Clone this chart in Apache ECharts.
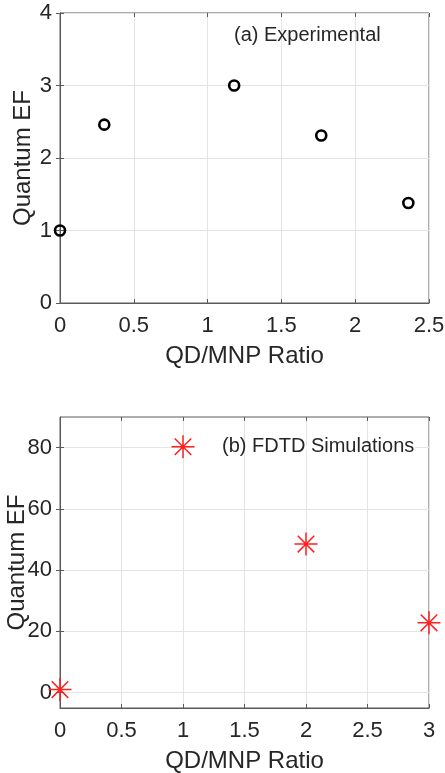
<!DOCTYPE html>
<html>
<head>
<meta charset="utf-8">
<script src="https://cdn.jsdelivr.net/npm/echarts@6/dist/echarts.min.js"></script>
<style>
html,body{margin:0;padding:0;background:#fff;}
#chart{width:445px;height:773px;}
</style>
</head>
<body>
<div id="chart"></div>
<script>
// Data
const expRatio = [0, 0.3, 1.18, 1.77, 2.36];
const expEF = [1.0, 2.46, 3.0, 2.31, 1.38];
const simRatio = [0, 1, 2, 3];
const simEF = [1, 80.3, 48.5, 22.8];
const topYTicks = [0, 1, 2, 3, 4];
const botYTicks = [0, 20, 40, 60, 80];
const xTitle = 'QD/MNP Ratio';
const yTitle = 'Quantum EF';
const labelA = '(a) Experimental';
const labelB = '(b) FDTD Simulations';

const FONT = '"Liberation Sans", Arial, Helvetica, sans-serif';
const AXIS_COLOR = '#5a5a5a';
const TEXT_COLOR = '#262626';
const GRID_COLOR = '#e4e4e4';

const chart = echarts.init(document.getElementById('chart'), null, {renderer: 'canvas'});

function xAxisCfg(gridIndex, max) {
  return {
    type: 'value', gridIndex: gridIndex, min: 0, max: max, interval: 0.5,
    name: xTitle, nameLocation: 'middle', nameGap: 41, nameMoveOverlap: false,
    nameTextStyle: {fontFamily: FONT, fontSize: 24, color: TEXT_COLOR},
    axisLine: {show: true, onZero: false, lineStyle: {color: AXIS_COLOR, width: 1}},
    axisTick: {show: true, inside: true, length: 4, lineStyle: {color: AXIS_COLOR}},
    axisLabel: {fontFamily: FONT, fontSize: 22, color: TEXT_COLOR, margin: 12},
    splitLine: {show: true, lineStyle: {color: GRID_COLOR, width: 1}}
  };
}
function xTopCfg(gridIndex, max) {
  return {
    type: 'value', gridIndex: gridIndex, position: 'top', min: 0, max: max, interval: 0.5,
    axisLine: {show: false, onZero: false},
    axisTick: {show: true, inside: true, length: 4, lineStyle: {color: AXIS_COLOR}},
    axisLabel: {show: false}, splitLine: {show: false}
  };
}

const option = {
  animation: false,
  backgroundColor: '#fff',
  grid: [
    {left: 60, right: 16, top: 13, height: 290, containLabel: false, outerBoundsMode: 'none', show: true, borderColor: AXIS_COLOR, borderWidth: 1, backgroundColor: 'transparent'},
    {left: 60, right: 16, top: 417, height: 291, containLabel: false, outerBoundsMode: 'none', show: true, borderColor: AXIS_COLOR, borderWidth: 1, backgroundColor: 'transparent'}
  ],
  xAxis: [xAxisCfg(0, 2.5), xAxisCfg(1, 3), xTopCfg(0, 2.5), xTopCfg(1, 3)],
  yAxis: [
    {
      type: 'value', gridIndex: 0, min: 0, max: 4, interval: 1,
      name: yTitle, nameLocation: 'middle', nameGap: 25, nameMoveOverlap: false,
      nameTextStyle: {fontFamily: FONT, fontSize: 24, color: TEXT_COLOR},
      axisLine: {show: true, lineStyle: {color: AXIS_COLOR, width: 1}},
      axisTick: {show: true, inside: true, length: 4, lineStyle: {color: AXIS_COLOR}},
      axisLabel: {fontFamily: FONT, fontSize: 22, color: TEXT_COLOR, margin: 8},
      splitLine: {show: true, lineStyle: {color: GRID_COLOR, width: 1}}
    },
    {
      type: 'value', gridIndex: 1, min: -5, max: 90,
      name: yTitle, nameLocation: 'middle', nameGap: 31, nameMoveOverlap: false,
      nameTextStyle: {fontFamily: FONT, fontSize: 24, color: TEXT_COLOR},
      axisLine: {show: true, onZero: false, lineStyle: {color: AXIS_COLOR, width: 1}},
      axisTick: {show: true, inside: true, length: 4, customValues: botYTicks, lineStyle: {color: AXIS_COLOR}},
      axisLabel: {fontFamily: FONT, fontSize: 22, color: TEXT_COLOR, margin: 8, customValues: botYTicks},
      splitLine: {show: true, lineStyle: {color: GRID_COLOR, width: 1}}
    },
    {
      type: 'value', gridIndex: 0, position: 'right', min: 0, max: 4, interval: 1,
      axisLine: {show: false},
      axisTick: {show: true, inside: true, length: 4, lineStyle: {color: AXIS_COLOR}},
      axisLabel: {show: false}, splitLine: {show: false}
    },
    {
      type: 'value', gridIndex: 1, position: 'right', min: -5, max: 90,
      axisLine: {show: false},
      axisTick: {show: true, inside: true, length: 4, customValues: botYTicks, lineStyle: {color: AXIS_COLOR}},
      axisLabel: {show: false, customValues: botYTicks}, splitLine: {show: false}
    }
  ],
  graphic: [
    {type: 'text', left: 234, top: 25, z: 4, style: {text: labelA, font: '20px ' + FONT, fill: TEXT_COLOR}},
    {type: 'text', left: 222, top: 436, z: 4, style: {text: labelB, font: '20px ' + FONT, fill: TEXT_COLOR}}
  ],
  series: [
    {
      type: 'scatter', xAxisIndex: 0, yAxisIndex: 0,
      data: expRatio.map((x, i) => [x, expEF[i]]),
      symbol: 'circle', symbolSize: 10,
      itemStyle: {color: 'rgba(0,0,0,0)', borderColor: '#000', borderWidth: 2.6, opacity: 1},
      clip: false, z: 10
    },
    {
      type: 'scatter', xAxisIndex: 1, yAxisIndex: 1,
      data: simRatio.map((x, i) => [x, simEF[i]]),
      symbol: 'path://M0,-1L0,1M-1,0L1,0M-0.72,-0.72L0.72,0.72M-0.72,0.72L0.72,-0.72',
      symbolSize: 23,
      itemStyle: {color: 'rgba(0,0,0,0)', borderColor: '#ff2020', borderWidth: 1.5, opacity: 1},
      clip: false, z: 10
    }
  ]
};
chart.setOption(option);

// hide the 80-gridline behind the text label, as in the reference
const y80 = chart.convertToPixel({yAxisIndex: 1}, 80);
const xStart = chart.convertToPixel({xAxisIndex: 1}, 1) + 12;
chart.setOption({
  graphic: [
    {type: 'text', left: 234, top: 25, z: 4, style: {text: labelA, font: '20px ' + FONT, fill: TEXT_COLOR}},
    {type: 'text', left: 222, top: 436, z: 4, style: {text: labelB, font: '20px ' + FONT, fill: TEXT_COLOR}},
    {type: 'rect', z: 3, shape: {x: xStart, y: Math.round(y80) - 1.5, width: 415 - xStart, height: 3}, style: {fill: '#fff'}}
  ]
});
</script>
</body>
</html>
